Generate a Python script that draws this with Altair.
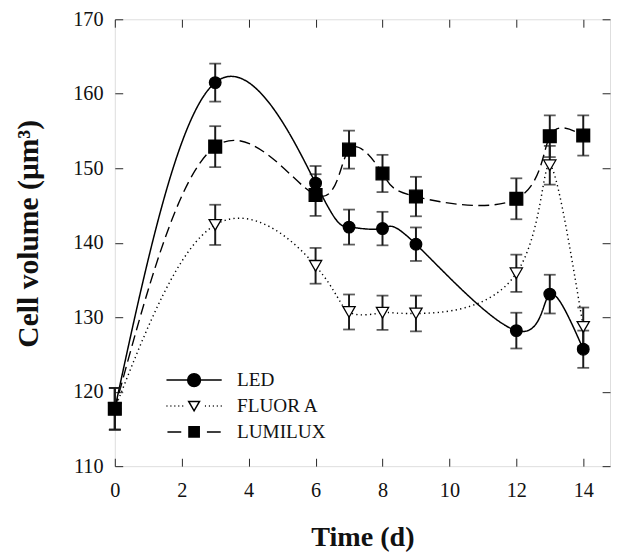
import altair as alt
import pandas as pd

# ---- data ----
days = [0, 3, 6, 7, 8, 9, 12, 13, 14]
series_names = ["LED", "FLUOR A", "LUMILUX"]
led = [117.7, 161.5, 148.0, 142.1, 141.9, 139.8, 128.2, 133.1, 125.7]
led_err = [2.8, 2.55, 2.3, 2.35, 2.25, 2.25, 2.4, 2.6, 2.5]
fluor = [117.7, 142.4, 136.9, 130.7, 130.6, 130.5, 135.9, 150.4, 128.7]
fluor_err = [2.8, 2.7, 2.4, 2.35, 2.3, 2.4, 2.5, 2.6, 2.6]
lumilux = [117.7, 152.9, 146.4, 152.5, 149.3, 146.2, 145.9, 154.3, 154.4]
lumilux_err = [2.8, 2.75, 2.8, 2.55, 2.5, 2.65, 2.75, 2.8, 2.7]

x_ticks = list(range(0, 15))
y_ticks = list(range(110, 171, 5))

rows = []
for name, vals, errs in zip(series_names, [led, fluor, lumilux], [led_err, fluor_err, lumilux_err]):
    for d, v, e in zip(days, vals, errs):
        rows.append({"day": d, "series": name, "value": v, "low": v - e, "high": v + e})
df = pd.DataFrame(rows)

W, H = 502, 453
AX = "#262626"
FONT = "Liberation Serif"

xs = alt.Scale(domain=[0, 14.8], nice=False, zero=False)
ys = alt.Scale(domain=[110, 170], nice=False, zero=False)

x_axis = alt.Axis(
    values=x_ticks, labelExpr="datum.value % 2 === 0 ? datum.label : ''", labelFlush=False,
    ticks=False, tickSize=0, domain=False, grid=True, gridColor=AX, gridWidth=1, gridOpacity=1,
    gridDash=alt.condition("datum.value % 2 === 0", alt.value([8, H - 16, 8, 0]), alt.value([4.5, H - 9, 4.5, 0])),
    labelFont=FONT, labelFontSize=20.5, labelColor="#111", labelPadding=15,
    title="Time (d)", titleFont=FONT, titleFontSize=28.5, titleFontWeight="bold", titleColor="#111",
    titlePadding=22,
)
y_axis = alt.Axis(
    values=y_ticks, labelExpr="datum.value % 10 === 0 ? datum.label : ''", labelFlush=False,
    ticks=False, tickSize=0, domain=False, grid=True, gridColor=AX, gridWidth=1, gridOpacity=1,
    gridDash=alt.condition("datum.value % 10 === 0", alt.value([8, W - 16, 8, 0]), alt.value([5, W - 10, 5, 0])),
    labelFont=FONT, labelFontSize=20.5, labelColor="#111", labelPadding=12,
    title="Cell volume (μm³)", titleFont=FONT, titleFontSize=30, titleFontWeight="bold", titleColor="#111",
    titlePadding=30, titleY=217,
)

base = alt.Chart(df)
X = alt.X("day:Q", scale=xs, axis=x_axis)
Y = alt.Y("value:Q", scale=ys, axis=y_axis)

lines = base.mark_line(interpolate="natural", color="black").encode(
    x=X, y=Y,
    strokeDash=alt.StrokeDash("series:N", scale=alt.Scale(domain=series_names, range=[[1, 0], [1.3, 3.3], [11, 5.5]]), legend=None),
    strokeWidth=alt.StrokeWidth("series:N", scale=alt.Scale(domain=series_names, range=[1.5, 1.4, 1.5]), legend=None),
)

err_rule = base.mark_rule(color="#1a1a1a", strokeWidth=2).encode(
    x=alt.X("day:Q", scale=xs), y=alt.Y("low:Q", scale=ys), y2="high:Q"
)
cap_low = base.mark_tick(orient="horizontal", size=12, thickness=1.8, color="#1a1a1a").encode(
    x=alt.X("day:Q", scale=xs), y=alt.Y("low:Q", scale=ys)
)
cap_high = base.mark_tick(orient="horizontal", size=12, thickness=1.8, color="#1a1a1a").encode(
    x=alt.X("day:Q", scale=xs), y=alt.Y("high:Q", scale=ys)
)

points = base.mark_point(opacity=1, stroke="black", strokeWidth=1.3).encode(
    x=alt.X("day:Q", scale=xs), y=alt.Y("value:Q", scale=ys),
    shape=alt.Shape("series:N", scale=alt.Scale(domain=series_names, range=["circle", "triangle-down", "square"]), legend=None),
    fill=alt.Fill("series:N", scale=alt.Scale(domain=series_names, range=["black", "white", "black"]), legend=None),
    size=alt.Size("series:N", scale=alt.Scale(domain=series_names, range=[139, 169, 137]), legend=None),
)

dots = "".join(f"M{x},0h1" for x in [-28, -24, -20, -16, -12, 11, 15, 19, 23, 27])
legend_paths = [
    "M-28,0H-6.5M28,0H6.5M6.5,0A6.5,6.5,0,1,1,-6.5,0A6.5,6.5,0,1,1,6.5,0Z",
    dots + "M-5.5,-4.6L5.5,-4.6L0,4.9Z",
    "M-27,0H-13M13,0H27M-5.2,-5.2H5.2V5.2H-5.2Z",
]
leg = dict(
    orient="none", legendX=70.6, legendY=356, title=None, padding=0,
    symbolSize=4, symbolStrokeWidth=1.5, symbolStrokeColor="black", symbolOpacity=1,
    labelFont=FONT, labelFontSize=19.5, labelColor="#111", labelOffset=33.7, rowPadding=5.3,
)
legend_layer = base.transform_filter("false").mark_point(opacity=1, strokeWidth=1.5, size=4).encode(
    shape=alt.Shape("series:N", scale=alt.Scale(domain=series_names, range=legend_paths), legend=alt.Legend(**leg)),
    fill=alt.Fill("series:N", scale=alt.Scale(domain=series_names, range=["black", "white", "black"]), legend=alt.Legend(**leg)),
    stroke=alt.Stroke("series:N", scale=alt.Scale(domain=series_names, range=["black", "black", "black"]), legend=alt.Legend(**leg)),
)

chart = alt.layer(lines, err_rule, cap_low, cap_high, points, legend_layer).resolve_scale(
    shape="independent", fill="independent", stroke="independent"
).properties(
    width=W, height=H,
    autosize=alt.AutoSizeParams(type="none"),
    padding={"left": 108.3, "top": 7.7, "right": 1, "bottom": 86},
).configure_view(stroke=AX, strokeWidth=1.2).configure(background="white")

chart.save("out.html", embed_options={"renderer": "svg", "actions": False})
